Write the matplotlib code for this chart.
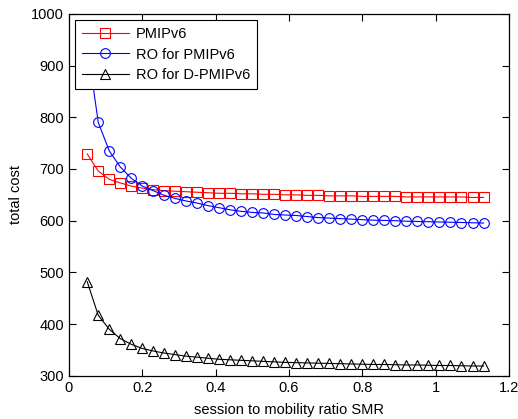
import numpy as np
import matplotlib
matplotlib.use("Agg")
import matplotlib.pyplot as plt

plt.rcParams['font.family'] = ['Liberation Sans', 'DejaVu Sans']

# session to mobility ratio, 0.05 .. 1.13 step 0.03
smr = [0.05, 0.08, 0.11, 0.14, 0.17, 0.20, 0.23, 0.26, 0.29, 0.32,
       0.35, 0.38, 0.41, 0.44, 0.47, 0.50, 0.53, 0.56, 0.59, 0.62,
       0.65, 0.68, 0.71, 0.74, 0.77, 0.80, 0.83, 0.86, 0.89, 0.92,
       0.95, 0.98, 1.01, 1.04, 1.07, 1.10, 1.13]

pmipv6 = [729, 696, 680, 673, 667, 663, 660, 658, 657, 656,
          655, 654, 653, 653, 652, 652, 651, 651, 650, 650,
          649, 649, 648, 648, 648, 647, 647, 647, 647, 646,
          646, 646, 646, 646, 646, 645, 645]

ro_pmipv6 = [940, 790, 735, 704, 682, 667, 658, 649, 643, 638,
             634, 629, 625, 621, 618, 616, 615, 612, 611, 610,
             608, 606, 605, 604, 603, 602, 601, 600.5, 600, 599,
             598.5, 598, 597.5, 597, 596.5, 596, 595.5]

ro_dpmipv6 = [482, 417, 390, 372, 361, 353, 348, 344, 341, 338,
              336, 334, 332, 331, 330, 329, 328, 327, 326, 325.5,
              325, 324.5, 324, 323.5, 323, 322.5, 322, 322, 321.5, 321,
              321, 320.5, 320, 320, 319.5, 319, 319]

fig = plt.figure(figsize=(5.18, 4.19), dpi=100)
ax = fig.add_axes([0.133, 0.103, 0.85, 0.864])

mk = dict(markerfacecolor='none', markersize=7, markeredgewidth=0.8, linewidth=0.8)
ax.plot(smr, pmipv6, 'r-s', label='PMIPv6', **mk)
ax.plot(smr, ro_pmipv6, 'b-o', label='RO for PMIPv6', **mk)
ax.plot(smr, ro_dpmipv6, 'k-^', label='RO for D-PMIPv6', **mk)

ax.set_xlim(0, 1.2)
ax.set_ylim(300, 1000)
ax.set_xticks([0, 0.2, 0.4, 0.6, 0.8, 1, 1.2])
ax.set_xticklabels(['0', '0.2', '0.4', '0.6', '0.8', '1', '1.2'])
ax.set_yticks(range(300, 1001, 100))
ax.tick_params(direction='in', top=True, right=True, length=5, width=0.8, labelsize=10.5)
for s in ax.spines.values():
    s.set_linewidth(0.9)

ax.set_xlabel('session to mobility ratio SMR', fontsize=10.5, labelpad=6)
ax.set_ylabel('total cost', fontsize=10.5)
ax.yaxis.set_label_coords(-0.105, 0.5)

leg = ax.legend(loc='upper left', fontsize=10.5, handlelength=3.2, fancybox=False,
                framealpha=1, edgecolor='k', borderaxespad=0.45, borderpad=0.45,
                labelspacing=0.45, handletextpad=0.5)
leg.get_frame().set_linewidth(0.8)

fig.savefig('out.png', dpi=100)
